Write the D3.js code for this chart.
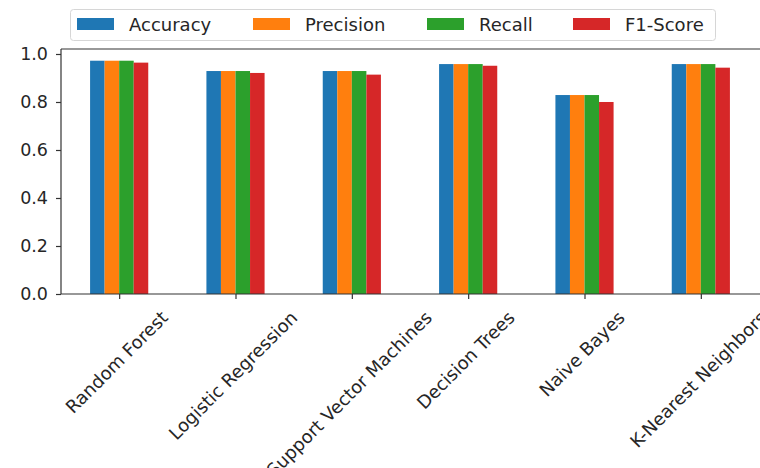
<!DOCTYPE html>
<html><head><meta charset="utf-8">
<script src="https://cdn.jsdelivr.net/npm/d3@7"></script>
<style>body{margin:0;background:#fff}svg{display:block}text{font-family:"DejaVu Sans",sans-serif;fill:#262626}</style>
</head><body><svg id="c" width="760" height="468"></svg>
<script>
const categories = ["Random Forest","Logistic Regression","Support Vector Machines","Decision Trees","Naive Bayes","K-Nearest Neighbors"];
const seriesNames = ["Accuracy","Precision","Recall","F1-Score"];
const accuracy  = [0.972,0.929,0.929,0.958,0.829,0.958];
const precision = [0.972,0.929,0.929,0.958,0.829,0.958];
const recall    = [0.972,0.929,0.929,0.958,0.829,0.958];
const f1score   = [0.964,0.921,0.914,0.951,0.800,0.943];
const colors = ["#1f77b4","#ff7f0e","#2ca02c","#d62728"];
const yTicks = [0.0,0.2,0.4,0.6,0.8,1.0];
const series = [accuracy,precision,recall,f1score];

const svg = d3.select("#c");
const L = 61, R = 759, T = 49, B = 294;
const x = d3.scaleLinear().domain([-0.5, categories.length - 0.5]).range([L, R]);
const y = d3.scaleLinear().domain([0, 1.0208]).range([B, T]);
const groupW = 0.5, barW = groupW / series.length;

series.forEach((vals, si) => {
  svg.append("g").selectAll("rect").data(vals).join("rect")
    .attr("x", (d, i) => x(i - groupW/2 + si*barW))
    .attr("width", (d, i) => x(i - groupW/2 + (si+1)*barW) - x(i - groupW/2 + si*barW))
    .attr("y", d => y(d))
    .attr("height", d => y(0) - y(d))
    .attr("fill", colors[si]);
});

const sp = svg.append("g").attr("stroke","#333").attr("stroke-width",1.2).attr("fill","none");
sp.append("line").attr("x1",L).attr("x2",760).attr("y1",T).attr("y2",T);
sp.append("line").attr("x1",L).attr("x2",760).attr("y1",B).attr("y2",B);
sp.append("line").attr("x1",L).attr("x2",L).attr("y1",T).attr("y2",B);

const yAxis = d3.axisLeft(y).tickValues(yTicks).tickFormat(d3.format(".1f")).tickSize(5).tickPadding(8);
const ya = svg.append("g").attr("transform",`translate(${L},0)`).call(yAxis);
ya.select(".domain").remove();
ya.selectAll(".tick line").attr("stroke","#333").attr("stroke-width",1.2);
ya.selectAll(".tick text").style("font-size","17.5px").attr("fill","#262626").style("font-family","DejaVu Sans");

const xAxis = d3.axisBottom(x).tickValues(d3.range(categories.length)).tickFormat(i => categories[i]).tickSize(5);
const xa = svg.append("g").attr("transform",`translate(0,${B})`).call(xAxis);
xa.select(".domain").remove();
xa.selectAll(".tick line").attr("stroke","#333").attr("stroke-width",1.2);
xa.selectAll(".tick text").style("font-size","18px").attr("fill","#262626").style("font-family","DejaVu Sans")
  .attr("text-anchor","middle").attr("dy","0.35em")
  .each(function(){
    const t = d3.select(this);
    const w = this.getComputedTextLength();
    const h = 18;
    const half = (w + h) / Math.SQRT2 / 2;
    t.attr("y", 0).attr("x", 0)
     .attr("transform", `translate(-3,${14 + half}) rotate(-45)`);
  });

const lg = svg.append("g");
lg.append("rect").attr("x",70.5).attr("y",9.5).attr("width",645).attr("height",31).attr("rx",3)
  .attr("fill","#fff").attr("fill-opacity",0.8).attr("stroke","#d6d6d6");
const patchX = [77, 253, 427, 573];
seriesNames.forEach((n, i) => {
  lg.append("rect").attr("x",patchX[i]).attr("y",18).attr("width",37).attr("height",12).attr("fill",colors[i]);
  lg.append("text").attr("x",patchX[i]+52).attr("y",25).attr("dy","0.35em").style("font-size","18px").text(n);
});
</script></body></html>
